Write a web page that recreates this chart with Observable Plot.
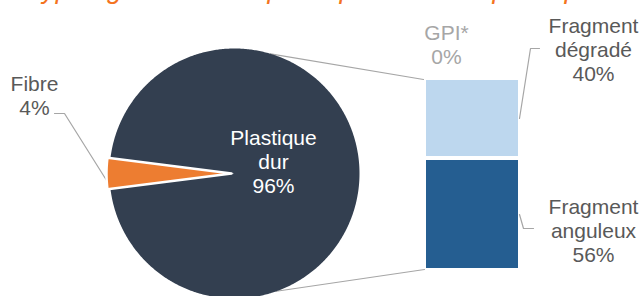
<!DOCTYPE html>
<html>
<head>
<meta charset="utf-8">
<script src="https://cdn.jsdelivr.net/npm/d3@7"></script>
<script src="https://cdn.jsdelivr.net/npm/@observablehq/plot@0.6"></script>
<style>
  html, body { margin: 0; padding: 0; background: #fff; }
  #title { height: 8px; overflow: hidden; width: 642px; text-align: center; }
  #title span { display: block; margin-top: -24px; font: italic 27px/27px "Liberation Sans", Arial, sans-serif; color: #F47320; white-space: nowrap; }
  #chart svg { display: block; }
</style>
</head>
<body>
<div id="title"><span>Typologie des microplastiques et mésoplastiques</span></div>
<div id="chart"></div>
<script>
// ---- data ----
const pieCategories = ["Plastique dur", "Fibre"];
const pieValues = [96, 4];
const pieLabels = ["Plastique\ndur\n96%", "Fibre\n4%"];

const barCategories = ["Fragment anguleux", "GPI*", "Fragment dégradé"];
const barValues = [56, 0, 40];
const barLabels = ["Fragment\nanguleux\n56%", "GPI*\n0%", "Fragment\ndégradé\n40%"];

// ---- styles / layout ----
const pieColors = {"Plastique dur": "#333F50", "Fibre": "#ED7D31"};
const barColors = {"Fragment anguleux": "#255E91", "GPI*": "#A5A5A5", "Fragment dégradé": "#BDD7EE"};
const W = 642, H = 288, TOP = 8;
const pie = {cx: 234, cy: 173, r: 125, explode: 3, focus: "Fibre", focusAngle: 1.5 * Math.PI};
const bar = {x0: 426, x1: 518, base: 270, k: 2, inset: 2};
const connectAngles = [0.292, 2.80]; // where the connectors leave the pie (clockwise from north)

// ---- pie geometry from values ----
const total = d3.sum(pieValues);
const fi = pieCategories.indexOf(pie.focus);
const before = d3.sum(pieValues.slice(0, fi)) + pieValues[fi] / 2;
const start = pie.focusAngle - 2 * Math.PI * before / total;
const arcs = d3.pie().sort(null).startAngle(start).endAngle(start + 2 * Math.PI)(pieValues);
const pt = (a, r, ox = 0, oy = 0) => ({x: pie.cx + ox + r * Math.sin(a), y: pie.cy + oy - r * Math.cos(a)});
const slicePts = [];
arcs.forEach((a, i) => {
  const cat = pieCategories[i];
  const mid = (a.startAngle + a.endAngle) / 2;
  const ex = cat === pie.focus ? pie.explode : 0;
  const ox = ex * Math.sin(mid), oy = -ex * Math.cos(mid);
  const n = Math.max(8, Math.ceil((a.endAngle - a.startAngle) / 0.01));
  const pts = [{x: pie.cx + ox, y: pie.cy + oy}];
  for (let j = 0; j <= n; j++) pts.push(pt(a.startAngle + (a.endAngle - a.startAngle) * j / n, pie.r, ox, oy));
  pts.push({x: pie.cx + ox, y: pie.cy + oy});
  pts.forEach(p => slicePts.push({...p, cat}));
});

// ---- bar geometry from values ----
const cum = d3.cumsum(barValues);
const barData = barCategories.map((c, i) => ({
  cat: c,
  value: barValues[i],
  y1: bar.base - (cum[i] - barValues[i]) * bar.k - bar.inset,
  y2: bar.base - cum[i] * bar.k + bar.inset
})).filter(d => d.value > 0);
const barTop = bar.base - d3.sum(barValues) * bar.k;

// ---- connectors / leaders ----
const cTop = pt(connectAngles[0], pie.r), cBot = pt(connectAngles[1], pie.r);
const lines = [
  {id: "top", x: cTop.x, y: cTop.y}, {id: "top", x: bar.x0 - 3, y: barTop + 1},
  {id: "bot", x: cBot.x, y: cBot.y}, {id: "bot", x: bar.x0 - 2, y: bar.base - 1},
  {id: "fib", x: 54, y: 113}, {id: "fib", x: 64, y: 113}, {id: "fib", x: 108, y: 183},
  {id: "deg", x: 539, y: 48}, {id: "deg", x: 530, y: 48}, {id: "deg", x: 519, y: 118},
  {id: "ang", x: 519, y: 214}, {id: "ang", x: 523, y: 228}, {id: "ang", x: 533, y: 228}
];

// ---- labels ----
const labelPos = {
  "Plastique dur": {x: 273, y: 161, fill: "#FFFFFF"},
  "Fibre": {x: 34, y: 94.5, fill: "#595959"},
  "Fragment anguleux": {x: 593, y: 229.5, fill: "#595959"},
  "GPI*": {x: 446, y: 43.5, fill: "#A6A6A6"},
  "Fragment dégradé": {x: 593, y: 48.5, fill: "#595959"}
};
const labels = [
  ...pieCategories.map((c, i) => ({cat: c, text: pieLabels[i], ...labelPos[c]})),
  ...barCategories.map((c, i) => ({cat: c, text: barLabels[i], ...labelPos[c]}))
];

const chart = Plot.plot({
  width: W, height: H,
  margin: 0,
  x: {domain: [0, W], range: [0, W], axis: null},
  y: {domain: [TOP, TOP + H], range: [0, H], axis: null},
  style: {fontFamily: '"Liberation Sans", Arial, sans-serif', background: "#fff"},
  marks: [
    Plot.line(lines, {x: "x", y: "y", z: "id", stroke: "#A6A6A6", strokeWidth: 1.2, curve: "linear"}),
    Plot.line(slicePts.filter(d => d.cat !== pie.focus), {x: "x", y: "y", fill: pieColors["Plastique dur"], stroke: "none"}),
    Plot.line(slicePts.filter(d => d.cat === pie.focus), {x: "x", y: "y", fill: pieColors["Fibre"], stroke: "#FFFFFF", strokeWidth: 2.5, strokeLinejoin: "miter"}),
    Plot.rect(barData, {x1: () => bar.x0, x2: () => bar.x1, y1: "y1", y2: "y2", fill: d => barColors[d.cat]}),
    Plot.text(labels, {x: "x", y: "y", text: "text", fill: "fill", fontSize: 21, lineHeight: 1.15, textAnchor: "middle"})
  ]
});
document.getElementById("chart").appendChild(chart);
</script>
</body>
</html>
